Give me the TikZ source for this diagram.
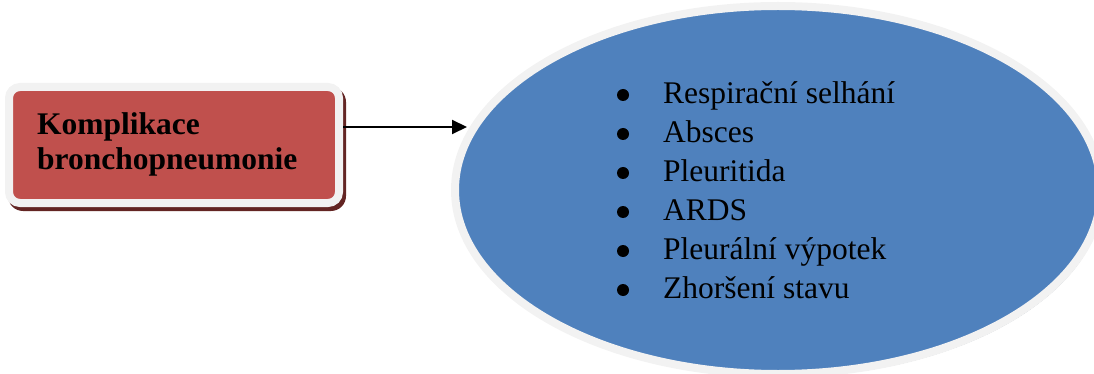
\documentclass[tikz,border=0pt]{standalone}
\usepackage{fontspec}
\setmainfont{Liberation Serif}
\usetikzlibrary{shapes.geometric,arrows.meta,backgrounds}

\definecolor{ringgray}{HTML}{F2F2F2}
\definecolor{boxred}{HTML}{C0504D}
\definecolor{boxshade}{HTML}{632523}
\definecolor{ovalblue}{HTML}{4F81BD}
\definecolor{ovalshade}{HTML}{243F60}

\tikzset{
  causebox/.style={rectangle, rounded corners=11pt, draw=ringgray, line width=8pt,
    fill=boxred, minimum width=330pt, minimum height=116pt, inner sep=0pt},
  effectoval/.style={ellipse, draw=ringgray, line width=8pt, fill=ovalblue,
    minimum width=646pt, minimum height=368pt, inner sep=0pt},
  boxtext/.style={anchor=base west, inner sep=0pt, align=left,
    font=\fontsize{31.5}{35}\selectfont\bfseries},
  listtext/.style={anchor=base west, inner sep=0pt,
    font=\fontsize{31.5}{39}\selectfont},
  listdot/.style={fill=black},
  link/.style={line width=2pt, -{Triangle[length=15pt,width=14pt]}}
}

\begin{document}
\begin{tikzpicture}[x=1pt,y=-1pt]
  \useasboundingbox (0,0) rectangle (1094,374);
  \clip (0,0) rectangle (1094,374);

  % cause box and its label
  \node[causebox] (box) at (174,145) {};
  \node[boxtext] (boxlabel) at (37,170) {Komplikace\\bronchopneumonie};

  % oval with the list of complications
  \node[effectoval] (oval) at (778,190) {};
  \node[listtext] (items) at (663,104) {%
    \begin{tabular}[t]{@{}l@{}}
      Respirační selhání\\
      Absces\\
      Pleuritida\\
      ARDS\\
      Pleurální výpotek\\
      Zhoršení stavu
    \end{tabular}};
  % list bullets
  \foreach \k in {0,...,5}
    \fill[listdot] (623,{95+39*\k}) circle [radius=6pt];

  % drop shadows behind both shapes
  \begin{scope}[on background layer]
    \fill[boxshade, rounded corners=15pt]
      ([shift={(3,4)}]box.north west) rectangle ([shift={(3,4)}]box.south east);
    \fill[ovalshade] ([shift={(2,3)}]oval.center)
      ellipse [x radius=323pt, y radius=184pt];
  \end{scope}

  % connector
  \coordinate (tip) at (467,127);
  \draw[link] (box.east |- tip) -- (tip);
\end{tikzpicture}
\end{document}
